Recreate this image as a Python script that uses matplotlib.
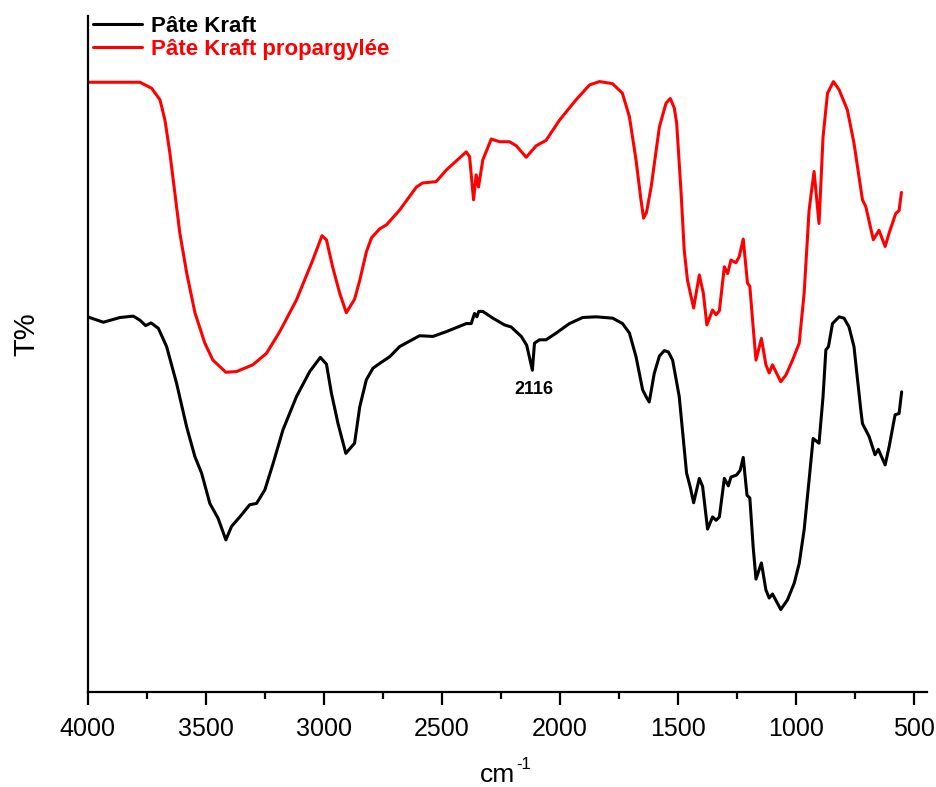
import numpy as np
import matplotlib
matplotlib.use("Agg")
import matplotlib.pyplot as plt
from matplotlib.ticker import MultipleLocator

plt.rcParams['font.family'] = ['Liberation Sans', 'DejaVu Sans']

# FTIR spectrum of unmodified Kraft pulp (wavenumber cm-1, transmittance, offset)
kraft_wn = [4000, 3933, 3862, 3806, 3778, 3754, 3731, 3700, 3665, 3623, 3580, 3545,
            3517, 3482, 3447, 3414, 3390, 3355, 3313, 3284, 3249, 3214, 3172, 3115,
            3059, 3014, 2988, 2967, 2939, 2906, 2869, 2847, 2819, 2791, 2763, 2720,
            2678, 2594, 2537, 2481, 2396, 2375, 2361, 2351, 2343, 2326, 2283, 2234,
            2206, 2163, 2140, 2116, 2107, 2086, 2058, 2015, 1959, 1903, 1846, 1776,
            1734, 1705, 1677, 1649, 1633, 1621, 1600, 1578, 1557, 1540, 1522, 1494,
            1463, 1448, 1433, 1409, 1395, 1374, 1353, 1338, 1324, 1303, 1286, 1275,
            1251, 1236, 1223, 1207, 1195, 1181, 1169, 1146, 1127, 1113, 1099, 1064,
            1036, 1007, 986, 965, 944, 927, 902, 885, 873, 862, 845, 817,
            796, 775, 754, 725, 718, 690, 665, 651, 622, 605, 580, 563, 552]
kraft_t = [55.5, 54.7, 55.4, 55.6, 55.0, 54.2, 54.6, 53.8, 51.1, 45.7, 39.2, 34.8,
           32.4, 27.9, 25.7, 22.5, 24.5, 25.9, 27.7, 27.9, 29.9, 33.8, 38.8, 43.7,
           47.4, 49.5, 48.5, 44.2, 39.7, 35.3, 36.8, 42.2, 46.2, 47.9, 48.6, 49.6,
           51.1, 52.7, 52.6, 53.3, 54.5, 54.5, 56.0, 55.5, 56.3, 56.3, 55.3, 54.3,
           54.0, 52.6, 51.3, 47.6, 51.6, 52.1, 52.1, 53.1, 54.5, 55.4, 55.5, 55.3,
           54.5, 53.1, 49.6, 44.7, 43.6, 42.9, 47.1, 49.7, 50.5, 50.3, 49.1, 43.7,
           32.4, 30.4, 28.0, 31.6, 30.4, 24.1, 25.9, 25.4, 25.9, 31.6, 30.5, 31.8,
           32.1, 32.8, 34.7, 29.1, 28.7, 21.5, 16.7, 19.1, 15.1, 13.9, 14.5, 12.2,
           13.6, 16.1, 19.0, 24.0, 31.4, 37.5, 36.8, 43.7, 50.6, 51.1, 54.5, 55.5,
           55.3, 54.0, 51.1, 41.7, 39.7, 37.8, 35.1, 35.9, 33.6, 36.3, 41.0, 41.2, 44.4]

# FTIR spectrum of propargylated Kraft pulp
prop_wn = [4000, 3905, 3778, 3728, 3693, 3672, 3651, 3630, 3609, 3580, 3545, 3503,
           3469, 3414, 3369, 3300, 3242, 3186, 3115, 3046, 3007, 2988, 2962, 2932,
           2904, 2869, 2847, 2819, 2797, 2763, 2734, 2678, 2607, 2581, 2523, 2481,
           2396, 2382, 2365, 2354, 2344, 2326, 2290, 2255, 2213, 2184, 2142, 2100,
           2058, 2001, 1931, 1874, 1832, 1777, 1735, 1705, 1677, 1656, 1645, 1633,
           1613, 1578, 1550, 1532, 1515, 1505, 1486, 1473, 1459, 1433, 1409, 1392,
           1377, 1353, 1338, 1324, 1303, 1289, 1275, 1254, 1240, 1223, 1205, 1195,
           1181, 1169, 1146, 1127, 1113, 1099, 1064, 1042, 1014, 986, 965, 944,
           923, 902, 885, 866, 841, 817, 782, 754, 718, 704, 672, 648,
           622, 605, 577, 563, 553]
prop_t = [90.2, 90.2, 90.2, 89.3, 87.6, 84.6, 79.7, 73.8, 67.9, 62.0, 56.1, 51.6,
          49.1, 47.3, 47.4, 48.4, 50.1, 53.3, 58.0, 63.9, 67.5, 66.9, 62.9, 59.0,
          56.1, 58.1, 60.9, 65.1, 67.2, 68.5, 69.1, 71.3, 74.7, 75.3, 75.5, 77.2,
          79.9, 79.2, 72.8, 76.5, 74.7, 78.7, 81.8, 81.4, 81.4, 80.8, 79.1, 80.8,
          81.6, 84.6, 87.6, 89.8, 90.3, 90.0, 88.6, 85.1, 78.7, 72.8, 70.1, 70.9,
          74.7, 83.6, 87.1, 87.8, 86.4, 84.2, 73.8, 65.4, 60.9, 56.8, 61.7, 59.0,
          54.3, 56.5, 55.8, 56.4, 62.9, 61.9, 63.9, 63.5, 64.4, 67.0, 60.5, 60.0,
          54.0, 49.1, 52.3, 48.4, 47.2, 48.4, 45.9, 46.9, 49.1, 51.6, 59.0, 71.3,
          77.0, 69.3, 82.1, 88.6, 90.3, 89.1, 86.1, 81.2, 72.8, 71.8, 66.9, 68.3,
          65.9, 67.9, 70.8, 71.2, 73.9]

series_labels = ["Pâte Kraft", "Pâte Kraft propargylée"]
series_colors = ["black", "red"]
annot_wn = 2116
annot_text = "2116"
x_ticks = [4000, 3500, 3000, 2500, 2000, 1500, 1000, 500]

fig = plt.figure(figsize=(9.37, 7.87), dpi=100)
ax = fig.add_axes([87.5 / 937, 95 / 787, (926.7 - 87.5) / 937, (692 - 16) / 787])

line_kw = dict(lw=2.2, solid_joinstyle='round', solid_capstyle='round')
ax.plot(kraft_wn, kraft_t, color=series_colors[0], label=series_labels[0], **line_kw)
ax.plot(prop_wn, prop_t, color=series_colors[1], label=series_labels[1], **line_kw)

annot_t = kraft_t[kraft_wn.index(annot_wn)]
ax.annotate(annot_text, xy=(annot_wn, annot_t), xytext=(1, -14),
            textcoords='offset points', ha='center', va='center',
            fontsize=13, fontweight='bold')

ax.set_xlim(4000, 446)
ax.set_ylim(0, 100)
ax.set_xticks(x_ticks)
ax.xaxis.set_minor_locator(MultipleLocator(250))
ax.set_yticks([])
for side in ('top', 'right'):
    ax.spines[side].set_visible(False)
for side in ('left', 'bottom'):
    ax.spines[side].set_linewidth(1.6)
ax.tick_params(axis='x', which='major', direction='out', length=9, width=1.6,
               labelsize=18, pad=9)
ax.tick_params(axis='x', which='minor', direction='out', length=5, width=1.6)

# axis titles: "cm" with a raised "-1"
xlab = ax.set_xlabel('cm', fontsize=19, labelpad=16)
xlab.set_x(0.488)
ax.annotate('-1', xy=(1.0, 0.62), xycoords=xlab, xytext=(1, 0),
            textcoords='offset points', ha='left', va='bottom', fontsize=12)
ax.set_ylabel('T%', fontsize=21)
ax.yaxis.set_label_coords(-0.056, 0.53)

leg = ax.legend(loc='upper left', bbox_to_anchor=(93 / 937, 1 - 16 / 787),
                bbox_transform=fig.transFigure, frameon=False,
                prop={'weight': 'bold', 'size': 16}, handlelength=2.2,
                handletextpad=0.4, labelspacing=0.08, borderpad=0,
                borderaxespad=0, labelcolor='linecolor')
for line in leg.get_lines():
    line.set_linewidth(2.2)

fig.savefig("out.png", dpi=100)
